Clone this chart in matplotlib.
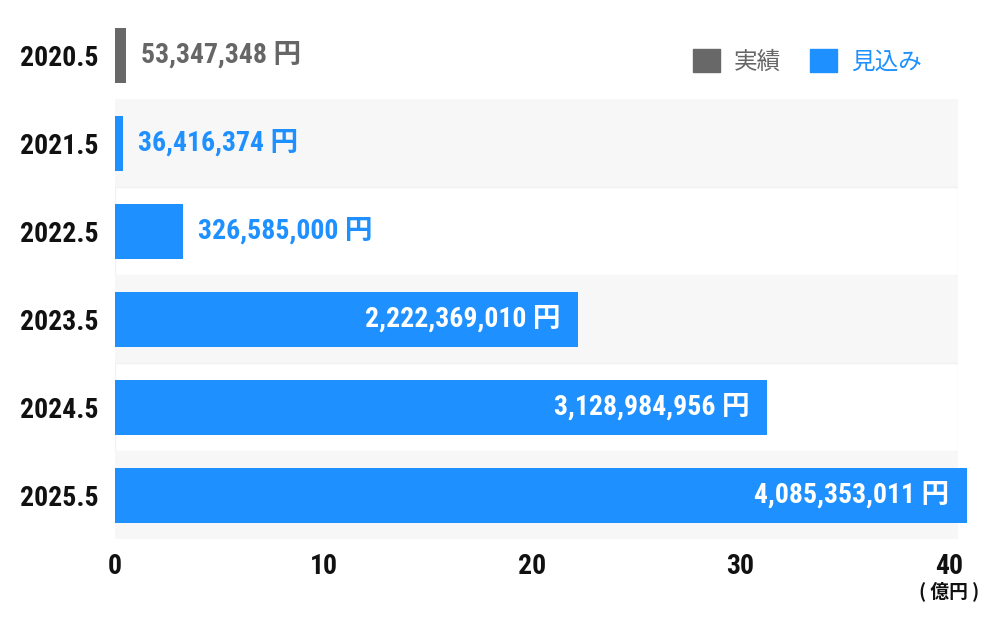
import matplotlib
matplotlib.use('Agg')
import matplotlib.pyplot as plt
from matplotlib import font_manager
from matplotlib.patches import Patch
from matplotlib.transforms import ScaledTranslation


YEARS = ['2020.5', '2021.5', '2022.5', '2023.5', '2024.5', '2025.5']
AMOUNTS = [53347348, 36416374, 326585000, 2222369010, 3128984956, 4085353011]
KINDS = ['実績', '見込み', '見込み', '見込み', '見込み', '見込み']
X_TICKS = [0, 10, 20, 30, 40]
UNIT = '( 億円 )'

COLORS = {'実績': '#686868', '見込み': '#1e90ff'}
TEXT_COLORS = {'実績': '#666666', '見込み': '#1e90ff'}

# pick the narrowest installed face for the digits
installed = {f.name for f in font_manager.fontManager.ttflist}
NARROW = 'DejaVu Sans'
for cand in ['Liberation Sans Narrow', 'Roboto Condensed', 'Open Sans Condensed',
             'DejaVu Sans Condensed', 'Noto Sans Display', 'Liberation Sans']:
	if cand in installed:
		NARROW = cand
		break
NUM_FONT = [NARROW, 'Noto Sans CJK JP']
JP_FONT = ['Noto Sans CJK JP', 'DejaVu Sans']
NUM_SIZE = 20


def plot_bars(ax):
	oku = [a / 1e8 for a in AMOUNTS]
	for i, (v, kind) in enumerate(zip(oku, KINDS)):
		if i % 2 == 1:
			ax.axhspan(i - 0.5, i + 0.5, color='#f7f7f7', lw=0, zorder=0)
		elif i > 0:
			ax.axhspan(i - 0.5, i + 0.5, facecolor='white', edgecolor='#f1f1f1', lw=1, zorder=0)
		ax.barh(i, v, height=0.625, color=COLORS[kind], zorder=2, clip_on=False)
		label = f'{AMOUNTS[i]:,} 円'
		if v < 10:
			ax.annotate(label, (v, i), xytext=(11, 0), textcoords='offset points',
						ha='left', va='center', fontsize=NUM_SIZE, fontweight='bold',
						color=TEXT_COLORS[kind], family=NUM_FONT, zorder=3,
						annotation_clip=False)
		else:
			ax.annotate(label, (v, i), xytext=(-13, 0), textcoords='offset points',
						ha='right', va='center', fontsize=NUM_SIZE, fontweight='bold',
						color='white', family=NUM_FONT, zorder=3,
						annotation_clip=False)


def style_axes(ax):
	ax.set_xlim(0, 40.43)
	ax.set_ylim(len(YEARS) - 0.5, -0.5)
	ax.set_yticks(range(len(YEARS)))
	ax.set_yticklabels(YEARS)
	ax.set_xticks(X_TICKS)
	ax.set_xticklabels([str(t) for t in X_TICKS])
	ax.tick_params(axis='y', length=0, pad=12)
	ax.tick_params(axis='x', length=0, pad=10)
	for lab in ax.get_xticklabels() + ax.get_yticklabels():
		lab.set_family(NUM_FONT)
		lab.set_fontsize(NUM_SIZE)
		lab.set_fontweight('bold')
		lab.set_color('#111111')
	for s in ax.spines.values():
		s.set_visible(False)
	# unit label sits under the last tick label
	shift = ScaledTranslation(0, -0.42, ax.figure.dpi_scale_trans)
	ax.text(X_TICKS[-1], len(YEARS) - 0.5, UNIT, transform=ax.transData + shift,
			ha='center', va='top', fontsize=13.5, fontweight='bold',
			family=JP_FONT, color='#111111')


def add_legend(ax):
	handles = [Patch(color=COLORS['実績'], label='実績'), Patch(color=COLORS['見込み'], label='見込み')]
	leg = ax.legend(handles=handles, ncol=2, frameon=False, loc='center right',
					bbox_to_anchor=(0.957, 0.905), borderpad=0, borderaxespad=0,
					handlelength=1.15, handleheight=1.15,
					handletextpad=0.6, columnspacing=1.2, prop={'family': JP_FONT, 'size': 17})
	for t, k in zip(leg.get_texts(), ['実績', '見込み']):
		t.set_color(TEXT_COLORS[k])


def plot_data():
	fig = plt.figure(figsize=(10, 6.25), dpi=100)
	ax = fig.add_axes([0.115, 1 - 539 / 625, 0.843, 528 / 625])
	plot_bars(ax)
	style_axes(ax)
	add_legend(ax)
	fig.savefig('out.png', dpi=100)


plot_data()
